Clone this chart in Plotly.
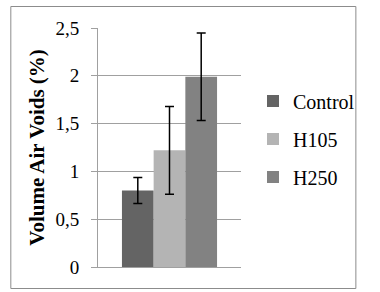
import plotly.graph_objects as go

# Data
series = ["Control", "H105", "H250"]
values = [0.80, 1.22, 1.99]
errors = [0.135, 0.46, 0.457]
colors = ["#646464", "#b4b4b4", "#828282"]
y_ticks = [0, 0.5, 1, 1.5, 2, 2.5]

W, H = 380, 292
L, R, T, B = 98, 253, 28, 267  # plot area in px

fig = go.Figure()
for i, (name, v, e, c) in enumerate(zip(series, values, errors, colors)):
    fig.add_trace(go.Bar(
        x=[""], y=[v], name=name, marker=dict(color=c, line=dict(width=0)),
        legendgroup=name,
        error_y=dict(type="data", array=[e], visible=True, color="black",
                     thickness=1.5, width=4.5),
    ))

def px_x(p):
    return (p - L) / (R - L)

def px_y(p):
    return (B - p) / (B - T)

fig.add_shape(type="rect", xref="paper", yref="paper",
              x0=px_x(3.5), x1=px_x(377.5), y0=px_y(288.5), y1=px_y(6.5),
              line=dict(color="#8c8c8c", width=1), fillcolor="rgba(0,0,0,0)",
              layer="below")

font_family = "Liberation Serif, Times New Roman, serif"

fig.update_layout(
    width=W, height=H,
    margin=dict(l=L, r=W - R, t=T, b=H - B, pad=0),
    paper_bgcolor="white", plot_bgcolor="white",
    separators=", ",
    barmode="group", bargap=0.335, bargroupgap=0,
    font=dict(family=font_family, size=19, color="black"),
    showlegend=True,
    legend=dict(
        xref="container", yref="container",
        x=253 / W, y=1 - 139 / H, xanchor="left", yanchor="middle",
        font=dict(size=20, family=font_family, color="black"),
        tracegroupgap=9, itemwidth=30, bgcolor="rgba(0,0,0,0)",
    ),
    xaxis=dict(
        type="category", showticklabels=False, ticks="",
        showline=True, linecolor="#a0a0a0", linewidth=1,
        showgrid=False, zeroline=False,
    ),
    yaxis=dict(
        range=[0, 2.5], tickvals=y_ticks, ticks="outside", ticklen=6,
        tickcolor="#a0a0a0", tickwidth=1, ticklabelstandoff=8,
        showline=True, linecolor="#a0a0a0", linewidth=1,
        showgrid=True, gridcolor="#a0a0a0", gridwidth=1, zeroline=False,
        tickfont=dict(size=19, family=font_family, color="black"),
        title=dict(text="<b>Volume Air Voids (%)</b>", standoff=5,
                   font=dict(size=21, family=font_family, color="black")),
    ),
)

fig.write_html("out.html")
